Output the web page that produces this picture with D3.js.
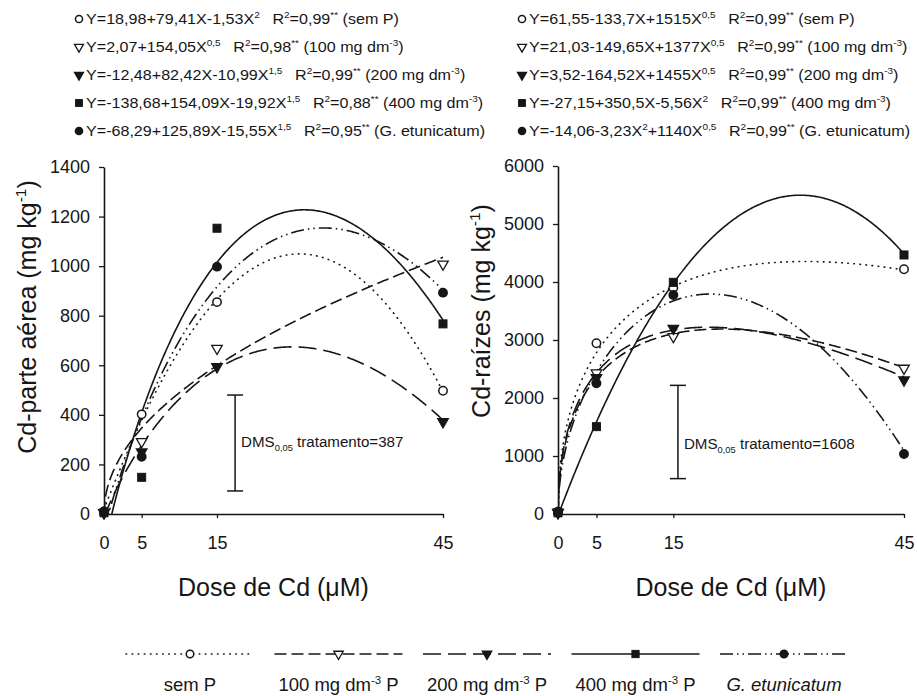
<!DOCTYPE html>
<html>
<head>
<meta charset="utf-8">
<script src="https://cdn.jsdelivr.net/npm/d3@7/dist/d3.min.js"></script>
<style>
  body { margin: 0; background: #fff; }
  svg { display: block; }
  text { font-family: "Liberation Sans", Arial, Helvetica, sans-serif; fill: #161616; }
</style>
</head>
<body>
<svg id="chart" width="917" height="696"></svg>
<script>
// ---- data -------------------------------------------------------------
const doses = [0, 5, 15, 45];
const seriesNames = ["sem P", "100 mg dm^{-3} P", "200 mg dm^{-3} P", "400 mg dm^{-3} P", "G. etunicatum"];

// Cd in shoots (mg kg-1), one row per treatment, one value per dose
const shootValues = [
  [10, 402, 855, 497],
  [5, 292, 668, 1008],
  [5, 250, 594, 372],
  [5, 148, 1153, 767],
  [10, 231, 998, 893]
];
// Cd in roots (mg kg-1)
const rootValues = [
  [40, 2943, 3900, 4219],
  [30, 2431, 3057, 2512],
  [20, 2350, 3201, 2310],
  [20, 1506, 3994, 4466],
  [40, 2253, 3776, 1034]
];

// regression models: list of [coefficient, power of X]
const shootFits = [
  [[18.98, 0], [79.41, 1], [-1.53, 2]],
  [[2.07, 0], [154.05, 0.5]],
  [[-12.48, 0], [82.42, 1], [-10.99, 1.5]],
  [[-138.68, 0], [154.09, 1], [-19.92, 1.5]],
  [[-68.29, 0], [125.89, 1], [-15.55, 1.5]]
];
const rootFits = [
  [[61.55, 0], [-133.7, 1], [1515, 0.5]],
  [[21.03, 0], [-149.65, 1], [1377, 0.5]],
  [[3.52, 0], [-164.52, 1], [1455, 0.5]],
  [[-27.15, 0], [350.5, 1], [-5.56, 2]],
  [[-14.06, 0], [-3.23, 2], [1140, 0.5]]
];

const shootEquations = [
  "Y=18,98+79,41X-1,53X^{2}|R^{2}=0,99^{**} (sem P)",
  "Y=2,07+154,05X^{0,5}|R^{2}=0,98^{**} (100 mg dm^{-3})",
  "Y=-12,48+82,42X-10,99X^{1,5}|R^{2}=0,99^{**} (200 mg dm^{-3})",
  "Y=-138,68+154,09X-19,92X^{1,5}|R^{2}=0,88^{**} (400 mg dm^{-3})",
  "Y=-68,29+125,89X-15,55X^{1,5}|R^{2}=0,95^{**} (G. etunicatum)"
];
const rootEquations = [
  "Y=61,55-133,7X+1515X^{0,5}|R^{2}=0,99^{**} (sem P)",
  "Y=21,03-149,65X+1377X^{0,5}|R^{2}=0,99^{**} (100 mg dm^{-3})",
  "Y=3,52-164,52X+1455X^{0,5}|R^{2}=0,99^{**} (200 mg dm^{-3})",
  "Y=-27,15+350,5X-5,56X^{2}|R^{2}=0,99^{**} (400 mg dm^{-3})",
  "Y=-14,06-3,23X^{2}+1140X^{0,5}|R^{2}=0,99^{**} (G. etunicatum)"
];

// least significant difference bars: [dose position, lower end, DMS value, label level]
const shootDms = [17.4, 93, 387, 287];
const rootDms = [15.6, 610, 1608, 1190];

const shootTicks = [0, 200, 400, 600, 800, 1000, 1200, 1400];
const rootTicks = [0, 1000, 2000, 3000, 4000, 5000, 6000];

// ---- styles -----------------------------------------------------------
const INK = "#161616";
const dashes = ["0.6,5.5", "12,5", "18,7", null, "13,4,1.5,4,1.5,4"];
const markerKind = ["openCircle", "openTri", "tri", "square", "circle"];

const svg = d3.select("#chart");

// rich text: ^{..} superscript, _{..} subscript, | wide gap
function rich(sel, str, fs, gap = 11) {
  const parts = str.split(/(\^\{[^}]*\}|_\{[^}]*\}|\|)/).filter(s => s !== "");
  let shift = 0, pendingDx = 0;
  parts.forEach(p => {
    if (p === "|") { pendingDx += gap; return; }
    let t = p, off = 0, size = fs;
    if (p.startsWith("^{")) { t = p.slice(2, -1); off = -0.4 * fs; size = 0.62 * fs; }
    else if (p.startsWith("_{")) { t = p.slice(2, -1); off = 0.28 * fs; size = 0.62 * fs; }
    const ts = sel.append("tspan").attr("font-size", size).attr("dy", off - shift).text(t);
    if (pendingDx) { ts.attr("dx", pendingDx); pendingDx = 0; }
    shift = off;
  });
}

function drawMarker(g, kind, x, y, scale = 1) {
  const s = scale;
  if (kind === "openCircle" || kind === "circle") {
    g.append("circle").attr("cx", x).attr("cy", y).attr("r", 4.2 * s)
      .attr("fill", kind === "circle" ? INK : "#fff").attr("stroke", INK).attr("stroke-width", 1.5);
  } else if (kind === "square") {
    g.append("rect").attr("x", x - 4 * s).attr("y", y - 4 * s).attr("width", 8 * s).attr("height", 8 * s)
      .attr("fill", INK).attr("stroke", INK).attr("stroke-width", 1);
  } else {
    g.append("path").attr("d", d3.symbol(d3.symbolTriangle, 48 * s * s)())
      .attr("transform", `translate(${x},${y}) rotate(180)`)
      .attr("fill", kind === "tri" ? INK : "#fff").attr("stroke", INK).attr("stroke-width", 1.3);
  }
}

const panels = [
  { values: shootValues, fits: shootFits, eqs: shootEquations, dms: shootDms, ticks: shootTicks,
    xr: [104, 443], yr: [514, 167], title: "Cd-parte aérea (mg kg^{-1})", titleX: 27, titleY: 317,
    eqX: 79, id: "a" },
  { values: rootValues, fits: rootFits, eqs: rootEquations, dms: rootDms, ticks: rootTicks,
    xr: [558, 904], yr: [514, 166], title: "Cd-raízes (mg kg^{-1})", titleX: 481, titleY: 311,
    eqX: 522, id: "b" }
];

const eqRows = d3.scalePoint().domain(d3.range(5)).range([19, 131]);
const sample = d3.range(0, 45.001, 0.15);

panels.forEach(p => {
  const x = d3.scaleLinear().domain([0, 45]).range(p.xr);
  const y = d3.scaleLinear().domain([0, d3.max(p.ticks)]).range(p.yr);

  // equation block
  const eq = svg.append("g");
  p.eqs.forEach((s, i) => {
    drawMarker(eq, markerKind[i], p.eqX, eqRows(i), 0.85);
    const t = eq.append("text")
      .attr("transform", `translate(${p.eqX + 7},${eqRows(i) + 5}) scale(1.15,1)`)
      .attr("font-size", 14);
    rich(t, s, 14, 11);
  });

  // axes
  const ay = svg.append("g").attr("transform", `translate(${p.xr[0]},0)`)
    .call(d3.axisLeft(y).tickValues(p.ticks).tickSize(5).tickSizeOuter(0).tickPadding(9).tickFormat(d3.format("d")));
  const ax = svg.append("g").attr("transform", `translate(0,${p.yr[0]})`)
    .call(d3.axisBottom(x).tickValues(doses).tickSize(4).tickSizeOuter(0).tickPadding(18).tickFormat(d3.format("d")));
  [ax, ay].forEach(a => {
    a.selectAll("path.domain").attr("stroke", INK).attr("stroke-width", 1.6);
    a.selectAll(".tick line").attr("stroke", INK).attr("stroke-width", 1.3);
    a.selectAll(".tick text").attr("font-size", 18).attr("fill", INK)
      .style("font-family", "'Liberation Sans', Arial, sans-serif");
  });

  // axis titles
  const yt = svg.append("text").attr("text-anchor", "middle").attr("font-size", 25)
    .attr("transform", `translate(${p.titleX + 9},${p.titleY}) rotate(-90)`);
  rich(yt, p.title, 25);
  svg.append("text").attr("text-anchor", "middle").attr("font-size", 25)
    .attr("x", (p.xr[0] + p.xr[1]) / 2).attr("y", 596).text("Dose de Cd (μM)");

  // fitted curves
  svg.append("clipPath").attr("id", "clip-" + p.id).append("rect")
    .attr("x", p.xr[0]).attr("y", p.yr[1] - 20)
    .attr("width", p.xr[1] - p.xr[0] + 2).attr("height", p.yr[0] - p.yr[1] + 20);
  const line = d3.line().x(d => x(d[0])).y(d => y(d[1])).curve(d3.curveLinear);
  p.fits.forEach((f, i) => {
    const pts = sample.map(X => [X, d3.sum(f, ([c, e]) => c * Math.pow(X, e))]);
    svg.append("path").attr("d", line(pts)).attr("clip-path", `url(#clip-${p.id})`)
      .attr("fill", "none").attr("stroke", INK).attr("stroke-width", 1.6)
      .attr("stroke-linecap", i === 0 ? "round" : "butt")
      .attr("stroke-dasharray", dashes[i]);
  });

  // observed means
  const mk = svg.append("g");
  p.values.forEach((row, i) => row.forEach((v, j) => drawMarker(mk, markerKind[i], x(doses[j]), y(v))));

  // DMS bar
  const [dd, lo, dv, lab] = p.dms;
  const bx = x(dd);
  const bar = svg.append("g").attr("stroke", INK).attr("stroke-width", 1.5);
  bar.append("line").attr("x1", bx).attr("x2", bx).attr("y1", y(lo)).attr("y2", y(lo + dv));
  [lo, lo + dv].forEach(v => bar.append("line").attr("x1", bx - 8).attr("x2", bx + 8).attr("y1", y(v)).attr("y2", y(v)));
  const dt = svg.append("text").attr("font-size", 14)
    .attr("transform", `translate(${bx + 6},${y(lab) + 4}) scale(1.08,1)`);
  rich(dt, "DMS_{0,05} tratamento=" + dv, 14);
});

// legend
const lx = d3.scalePoint().domain(seriesNames).range([190, 784]);
const lg = svg.append("g");
seriesNames.forEach((name, i) => {
  const cx = lx(name);
  lg.append("line").attr("x1", cx - 64).attr("x2", cx + 64).attr("y1", 654).attr("y2", 654)
    .attr("stroke", INK).attr("stroke-width", 1.6)
    .attr("stroke-linecap", i === 0 ? "round" : "butt")
    .attr("stroke-dasharray", dashes[i]);
  drawMarker(lg, markerKind[i], cx, 654, 0.9);
  const t = lg.append("text").attr("x", cx).attr("y", 691).attr("text-anchor", "middle").attr("font-size", 18.5);
  if (i === 4) t.attr("font-style", "italic");
  rich(t, name, 18.5);
});
</script>
</body>
</html>
